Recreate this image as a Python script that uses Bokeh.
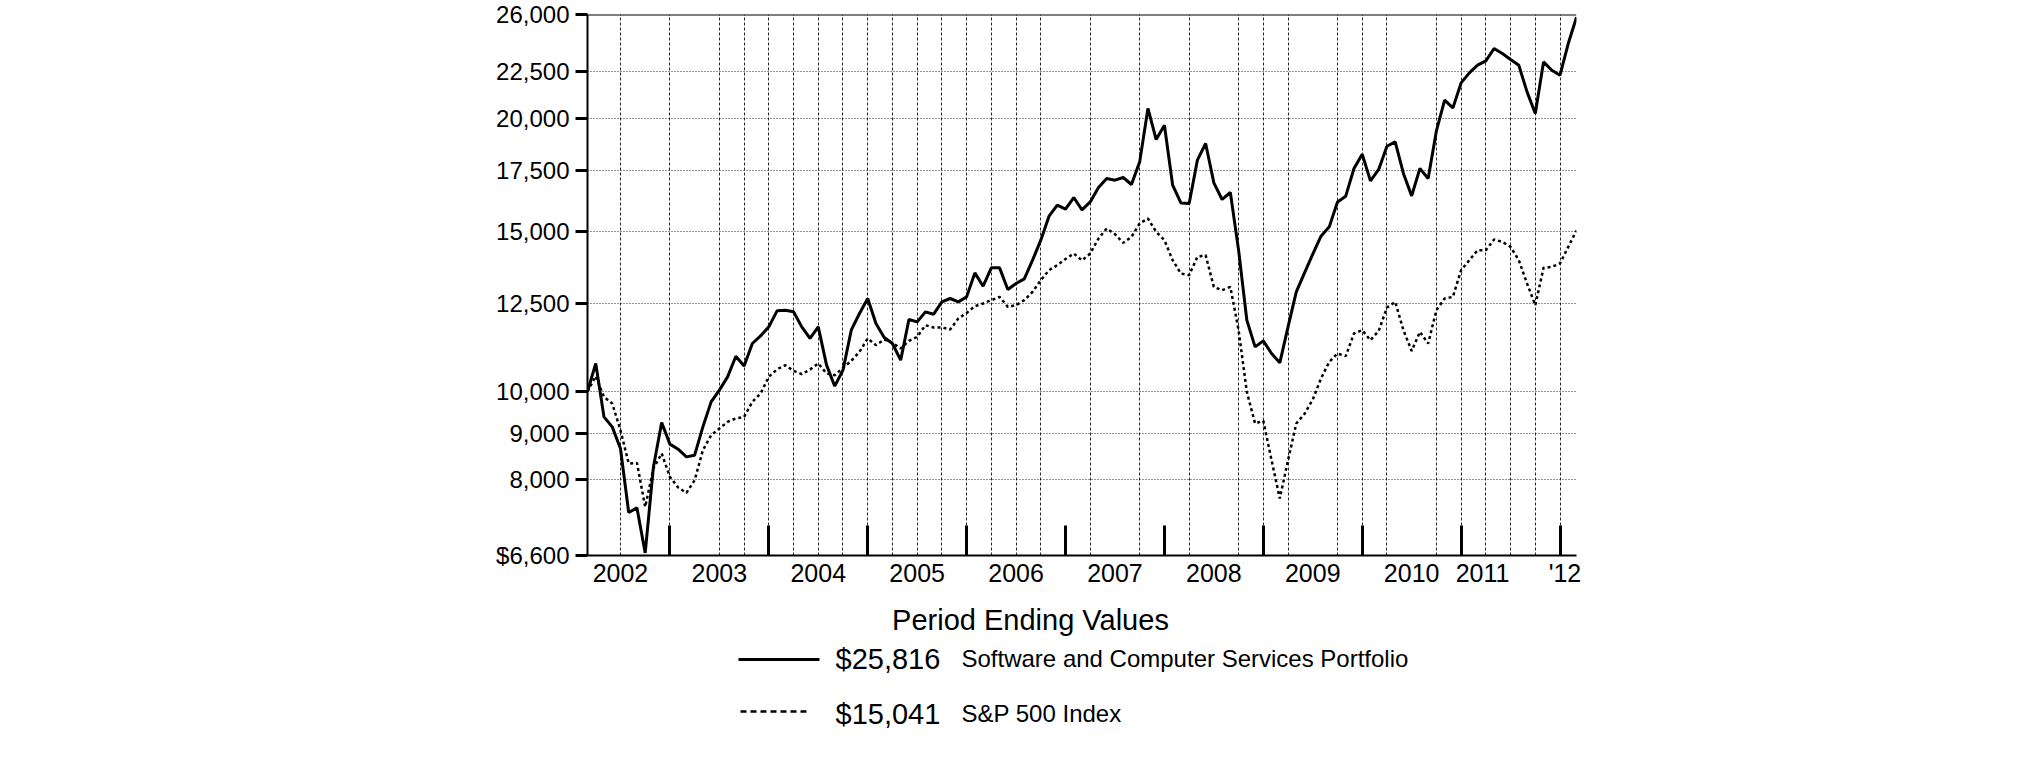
from bokeh.plotting import figure
from bokeh.models import Range1d, FixedTicker, Span
from bokeh.layouts import column
from bokeh.embed import file_html
from bokeh.resources import INLINE
from bokeh.core.properties import value

# Monthly period-ending values, month index 0 = end of Feb 2002 ... 120 = end of Feb 2012
portfolio = [
    10000, 10738, 9378, 9144, 8656, 7361, 7447, 6643, 8260, 9246,
    8752, 8640, 8474, 8510, 9144, 9742, 10036, 10379, 10936, 10670,
    11294, 11515, 11781, 12270, 12290, 12240, 11781, 11440, 11781, 10700,
    10137, 10557, 11682, 12187, 12659, 11882, 11469, 11294, 10827, 12004,
    11931, 12236, 12165, 12551, 12659, 12551, 12711, 13507, 13060, 13681,
    13681, 12951, 13150, 13305, 13950, 14675, 15595, 16037, 15880, 16351,
    15850, 16169, 16773, 17160, 17086, 17202, 16900, 17896, 20490, 18941,
    19641, 16869, 16130, 16104, 17974, 18749, 16968, 16270, 16560, 14308,
    11983, 11198, 11370, 11011, 10754, 11781, 12873, 13507, 14165, 14826,
    15179, 16169, 16407, 17599, 18249, 17054, 17555, 18620, 18824, 17378,
    16419, 17599, 17160, 19357, 20925, 20519, 21863, 22423, 22865, 23114,
    23852, 23553, 23200, 22865, 21369, 20231, 23057, 22576, 22292, 24157,
    25816,
]
sp500 = [
    10000, 10397, 9865, 9703, 9066, 8333, 8345, 7465, 8229, 8547,
    8055, 7842, 7735, 7987, 8619, 8952, 9105, 9261, 9342, 9378,
    9742, 9950, 10379, 10582, 10689, 10538, 10450, 10573, 10738, 10468,
    10423, 10618, 10808, 11058, 11440, 11248, 11411, 11313, 11154, 11370,
    11487, 11830, 11762, 11762, 11703, 12035, 12204, 12415, 12500, 12605,
    12711, 12394, 12446, 12605, 12873, 13260, 13601, 13775, 13990, 14188,
    13940, 14188, 14737, 15116, 14900, 14576, 14800, 15309, 15504, 14987,
    14675, 13950, 13487, 13429, 14066, 14128, 13036, 12927, 13036, 11682,
    9991, 9222, 9284, 8403, 7626, 8403, 9222, 9450, 9800, 10337,
    10780, 11011, 10938, 11586, 11682, 11388, 11661, 12373, 12551, 11682,
    11084, 11632, 11294, 12290, 12659, 12711, 13601, 13950, 14308, 14308,
    14700, 14612, 14428, 13950, 13150, 12446, 13681, 13715, 13835, 14428,
    15041,
]
months = list(range(len(portfolio)))

y_ticks = [6600, 8000, 9000, 10000, 12500, 15000, 17500, 20000, 22500, 26000]
y_tick_labels = ["$6,600", "8,000", "9,000", "10,000", "12,500", "15,000",
                 "17,500", "20,000", "22,500", "26,000"]

year_labels = ["2002", "2003", "2004", "2005", "2006", "2007", "2008",
               "2009", "2010", "2011", "'12"]
year_label_pos = [4, 16, 28, 40, 52, 64, 76, 88, 100, 108.6, 118.6]
year_ends = [10, 22, 34, 46, 58, 70, 82, 94, 106, 118]
missing_grid = [1, 7, 13, 58, 64, 70, 76, 88, 100]
grid_months = [m for m in range(1, 119, 3) if m not in missing_grid]

legend_title = "Period Ending Values"
legend_values = ["$25,816", "$15,041"]
legend_names = ["Software and Computer Services Portfolio", "S&P 500 Index"]

FONT = "Liberation Sans"
LEFT, FRAME_W, RIGHT = 587, 989, 420
TOP, FRAME_H, BOTTOM = 14, 541, 50

p = figure(frame_width=FRAME_W, frame_height=FRAME_H,
           x_range=Range1d(0, 120), y_range=Range1d(6600, 26000),
           y_axis_type="log", output_backend="svg", toolbar_location=None,
           min_border_left=LEFT, min_border_right=RIGHT, min_border_top=TOP,
           min_border_bottom=BOTTOM, outline_line_color=None,
           background_fill_color="white", border_fill_color="white")

# grids
p.xgrid.ticker = FixedTicker(ticks=grid_months)
p.xgrid.grid_line_color = "black"
p.xgrid.grid_line_alpha = 0.85
p.xgrid.grid_line_width = 1
p.xgrid.grid_line_dash = "3 2"
p.ygrid.grid_line_color = "black"
p.ygrid.grid_line_alpha = 0.85
p.ygrid.grid_line_width = 1
p.ygrid.grid_line_dash = "1 2"

# y axis
p.yaxis.ticker = FixedTicker(ticks=y_ticks)
p.yaxis.major_label_overrides = {t: l for t, l in zip(y_ticks, y_tick_labels)}
p.yaxis.major_tick_out = 12
p.yaxis.major_tick_in = 0
p.yaxis.major_tick_line_width = 3
p.yaxis.major_tick_line_color = "black"
p.yaxis.minor_tick_line_color = None
p.yaxis.axis_line_width = 2
p.yaxis.axis_line_color = "black"
p.yaxis.major_label_standoff = 6
p.yaxis.major_label_text_font = FONT
p.yaxis.major_label_text_font_size = "24px"
p.yaxis.major_label_text_color = "black"

# x axis
p.xaxis.ticker = FixedTicker(ticks=year_label_pos, minor_ticks=year_ends)
p.xaxis.major_label_overrides = {t: l for t, l in zip(year_label_pos, year_labels)}
p.xaxis.major_tick_line_color = None
p.xaxis.major_tick_in = 0
p.xaxis.major_tick_out = 0
p.xaxis.minor_tick_in = 30
p.xaxis.minor_tick_out = 0
p.xaxis.minor_tick_line_width = 3
p.xaxis.minor_tick_line_color = "black"
p.xaxis.axis_line_width = 2
p.xaxis.axis_line_color = "black"
p.xaxis.major_label_standoff = 3
p.xaxis.major_label_text_font = FONT
p.xaxis.major_label_text_font_size = "25px"
p.xaxis.major_label_text_color = "black"

# top border line
p.add_layout(Span(location=26000, dimension="width", line_color="black", line_width=2))

p.line(months, sp500, line_color="black", line_width=2.5, line_dash="3 3")
p.line(months, portfolio, line_color="black", line_width=3)

# legend panel: frame aligned with the chart frame, x in page pixels
lg = figure(frame_width=FRAME_W, frame_height=140,
            x_range=Range1d(LEFT, LEFT + FRAME_W), y_range=Range1d(140, 0),
            x_axis_type=None, y_axis_type=None,
            min_border_left=LEFT, min_border_right=RIGHT,
            min_border_top=0, min_border_bottom=0,
            output_backend="svg", toolbar_location=None,
            outline_line_color=None)
lg.grid.visible = False

lg.text(x=[1030], y=[14], text=[legend_title], text_font=value(FONT),
        text_font_size="29px", text_align="center", text_baseline="alphabetic",
        text_color="black")
lg.line([738, 819], [54, 54], line_color="black", line_width=3)
lg.line([740, 810], [106, 106], line_color="black", line_width=2.5, line_dash="6 4")
lg.text(x=[835, 835], y=[53, 108], text=legend_values, text_font=value(FONT),
        text_font_size="29px", text_align="left", text_baseline="alphabetic",
        text_color="black")
lg.text(x=[961, 961], y=[53, 108], text=legend_names, text_font=value(FONT),
        text_font_size="24px", text_align="left", text_baseline="alphabetic",
        text_color="black")

layout = column(p, lg, spacing=0)
open("out.html", "w").write(file_html(layout, INLINE))
